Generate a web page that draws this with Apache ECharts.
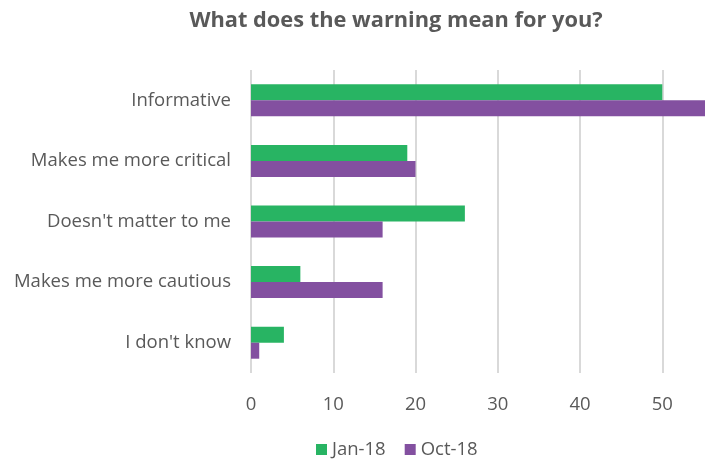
<!DOCTYPE html>
<html><head><meta charset="utf-8">
<script src="https://cdn.jsdelivr.net/npm/echarts@6/dist/echarts.min.js"></script>
<style>html,body{margin:0;padding:0;background:#fff;overflow:hidden}#c{width:746px;height:464px}</style>
</head><body><div id="c"></div>
<script>
const categories = ["Informative", "Makes me more critical", "Doesn't matter to me", "Makes me more cautious", "I don't know"];
const jan18 = [50, 19, 26, 6, 4];
const oct18 = [56, 20, 16, 16, 1];
const xTicks = [0, 10, 20, 30, 40, 50, 60];
const seriesNames = ["Jan-18", "Oct-18"];

const font = "'Open Sans', sans-serif";
const chart = echarts.init(document.getElementById('c'), null, {renderer: 'canvas'});
chart.setOption({
  animation: false,
  title: {
    text: "What does the warning mean for you?",
    left: 391, top: 5, textAlign: 'center',
    textStyle: {fontFamily: font, fontSize: 21.8, fontWeight: 'bold', color: '#595959'}
  },
  legend: {
    data: seriesNames, bottom: 0, left: 311, itemWidth: 11, itemHeight: 11, itemGap: 19,
    icon: 'rect',
    textStyle: {fontFamily: font, fontSize: 18.5, color: '#595959'}
  },
  grid: {left: 251, width: 493.56, top: 70, bottom: 91, containLabel: false, outerBoundsMode: 'none'},
  xAxis: {
    type: 'value', min: xTicks[0], max: xTicks[xTicks.length - 1], interval: 10,
    axisLine: {show: false}, axisTick: {show: false},
    axisLabel: {fontFamily: font, fontSize: 18.5, color: '#595959', margin: 22},
    splitLine: {show: true, lineStyle: {color: '#d9d9d9', width: 2}}
  },
  yAxis: {
    type: 'category', data: categories, inverse: true,
    axisLine: {show: false}, axisTick: {show: false},
    axisLabel: {fontFamily: font, fontSize: 18.5, color: '#595959', margin: 20}
  },
  series: [
    {name: seriesNames[0], type: 'bar', data: jan18, barWidth: 16, barGap: '0%',
     itemStyle: {color: '#28b463'}},
    {name: seriesNames[1], type: 'bar', data: oct18, barWidth: 16, barGap: '0%',
     itemStyle: {color: '#8350a0'}}
  ]
});
</script></body></html>
